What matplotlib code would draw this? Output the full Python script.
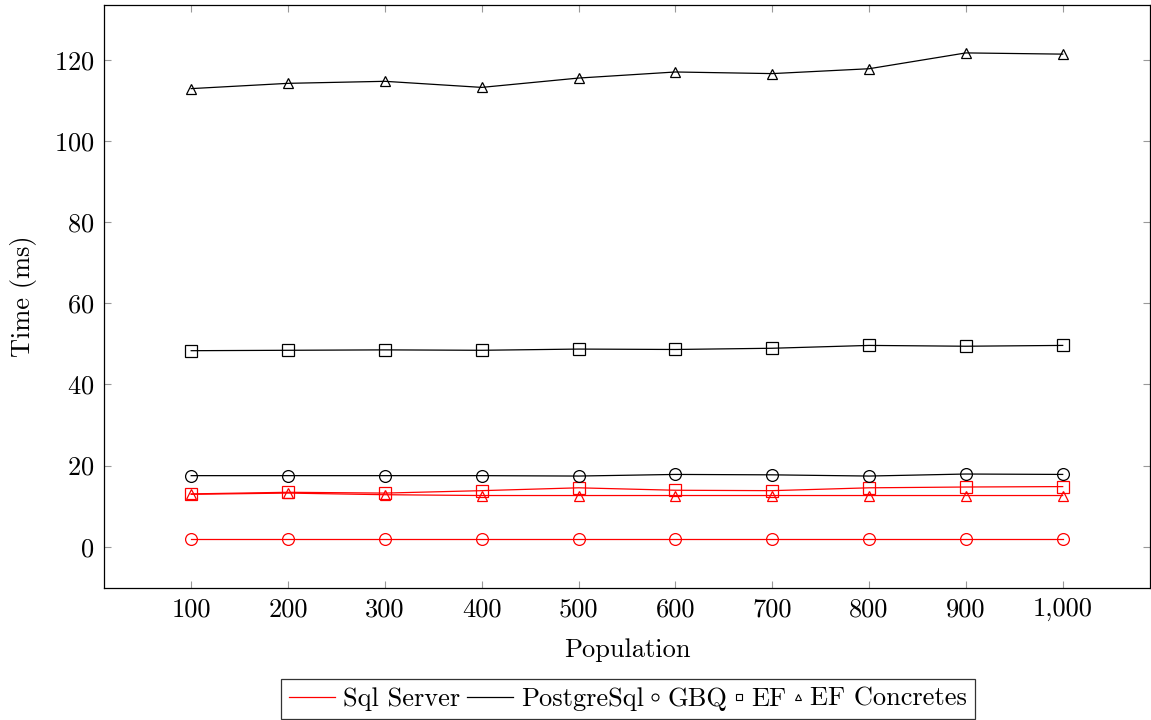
import matplotlib.pyplot as plt
from matplotlib.lines import Line2D
from matplotlib.legend_handler import HandlerLine2D
from matplotlib.ticker import FuncFormatter

plt.rcParams['font.family'] = 'serif'
plt.rcParams['font.serif'] = ['cmr10']
plt.rcParams['mathtext.fontset'] = 'cm'
plt.rcParams['axes.formatter.use_mathtext'] = True
plt.rcParams['axes.unicode_minus'] = False

# Population sizes
population = [100, 200, 300, 400, 500, 600, 700, 800, 900, 1000]

# Sql Server timings (ms)
sql_gbq = [1.8, 1.8, 1.8, 1.8, 1.8, 1.8, 1.8, 1.8, 1.8, 1.8]
sql_ef = [13.0, 13.4, 13.2, 13.8, 14.5, 13.9, 13.8, 14.5, 14.7, 14.8]
sql_efc = [12.9, 13.2, 12.8, 12.6, 12.6, 12.6, 12.6, 12.6, 12.6, 12.6]

# PostgreSql timings (ms)
pg_gbq = [17.5, 17.5, 17.5, 17.5, 17.4, 17.8, 17.7, 17.4, 17.9, 17.8]
pg_ef = [48.3, 48.4, 48.5, 48.4, 48.7, 48.6, 48.9, 49.6, 49.4, 49.6]
pg_efc = [112.9, 114.2, 114.7, 113.2, 115.5, 117.0, 116.6, 117.8, 121.7, 121.4]

FS = 19


class MarkerOnly(HandlerLine2D):
    # narrow handle box for marker-only legend entries
    def legend_artist(self, legend, orig_handle, fontsize, handlebox):
        handlebox.width = 0.35 * fontsize
        return super().legend_artist(legend, orig_handle, fontsize, handlebox)


fig = plt.figure(figsize=(11.51, 7.2), dpi=100)
ax = fig.add_axes([0.0904, 0.1833, 0.9086, 0.8097])

lw = 0.9
ms = 8.5
mew = 0.9
ax.plot(population, sql_gbq, color='red', lw=lw, marker='o', ms=ms, mfc='none', mew=mew)
ax.plot(population, sql_ef, color='red', lw=lw, marker='s', ms=ms - 0.5, mfc='none', mew=mew)
ax.plot(population, sql_efc, color='red', lw=lw, marker='^', ms=ms - 1.5, mfc='none', mew=mew)
ax.plot(population, pg_gbq, color='black', lw=lw, marker='o', ms=ms, mfc='none', mew=mew)
ax.plot(population, pg_ef, color='black', lw=lw, marker='s', ms=ms - 0.5, mfc='none', mew=mew)
ax.plot(population, pg_efc, color='black', lw=lw, marker='^', ms=ms - 1.5, mfc='none', mew=mew)

ax.set_xlim(10, 1090)
ax.set_ylim(-10.2, 133.5)
ax.set_xticks(population)
ax.set_yticks([0, 20, 40, 60, 80, 100, 120])
ax.xaxis.set_major_formatter(FuncFormatter(lambda v, p: f'{int(v):,}'))
ax.tick_params(direction='in', length=5, width=0.8, color='0.6',
               top=True, right=True, labelsize=FS, pad=7)
for s in ax.spines.values():
    s.set_linewidth(0.9)

ax.set_xlabel('Population', fontsize=FS, labelpad=12)
ax.set_ylabel('Time (ms)', fontsize=FS, labelpad=12)

handles = [
    Line2D([], [], color='red', lw=lw),
    Line2D([], [], color='black', lw=lw),
    Line2D([], [], color='black', ls='none', marker='o', ms=5, mfc='none', mew=0.8),
    Line2D([], [], color='black', ls='none', marker='s', ms=5, mfc='none', mew=0.8),
    Line2D([], [], color='black', ls='none', marker='^', ms=4.5, mfc='none', mew=0.8),
]
labels = ['Sql Server', 'PostgreSql', 'GBQ', 'EF', 'EF Concretes']
marker_handler = MarkerOnly()
leg = fig.legend(handles, labels, loc='lower center', bbox_to_anchor=(0.5456, 0.0),
                 ncol=5, fontsize=FS, frameon=True, fancybox=False, edgecolor='black',
                 handlelength=1.75, handletextpad=0.3, columnspacing=0.25,
                 borderpad=0.3, borderaxespad=0.05,
                 handler_map={h: marker_handler for h in handles[2:]})
leg.get_frame().set_linewidth(0.9)

fig.savefig('out.png', dpi=100)
